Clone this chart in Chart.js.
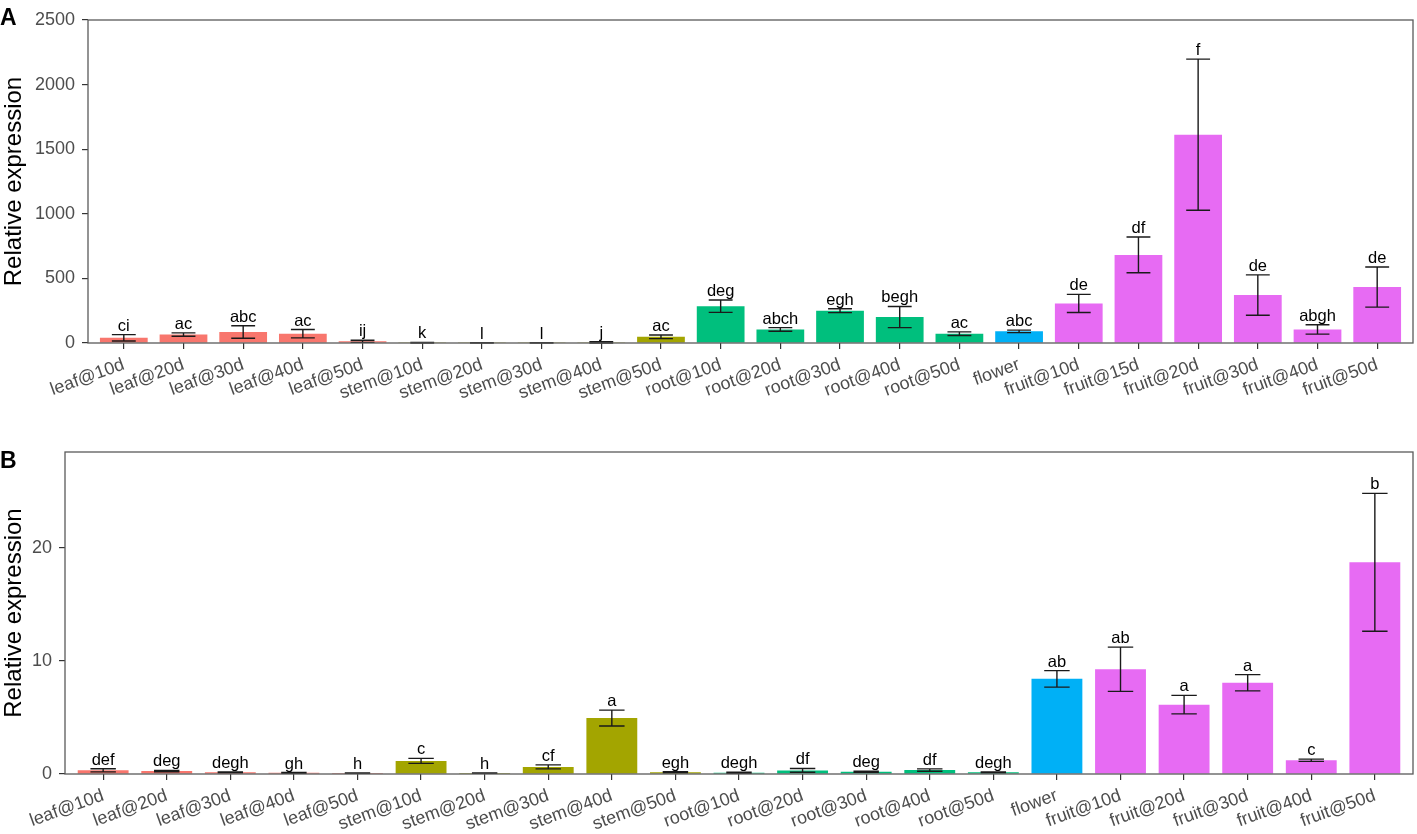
<!DOCTYPE html>
<html>
<head>
<meta charset="utf-8">
<script src="https://cdn.jsdelivr.net/npm/chart.js@4.4.1/dist/chart.umd.min.js"></script>
<style>
  body { margin: 0; background: #fff; }
  #page { position: relative; width: 1417px; height: 834px; overflow: hidden; }
  .panel { position: absolute; left: 0; width: 1417px; }
  .tag { position: absolute; left: 0; font: bold 23px 'Liberation Sans', Arial, sans-serif; line-height: 23px; color: #000; }
</style>
</head>
<body>
<div id="page">
  <div class="panel" style="top:0;height:420px"><canvas id="chartA"></canvas></div>
  <div class="panel" style="top:430px;height:404px"><canvas id="chartB"></canvas></div>
  <div class="tag" style="top:6px">A</div>
  <div class="tag" style="top:449px">B</div>
</div>
<script>
// panel A
const catsA = ['leaf@10d', 'leaf@20d', 'leaf@30d', 'leaf@40d', 'leaf@50d',
  'stem@10d', 'stem@20d', 'stem@30d', 'stem@40d', 'stem@50d',
  'root@10d', 'root@20d', 'root@30d', 'root@40d', 'root@50d',
  'flower', 'fruit@10d', 'fruit@15d', 'fruit@20d', 'fruit@30d', 'fruit@40d', 'fruit@50d'];
const groupsA = ['leaf', 'leaf', 'leaf', 'leaf', 'leaf', 'stem', 'stem', 'stem', 'stem', 'stem',
  'root', 'root', 'root', 'root', 'root', 'flower', 'fruit', 'fruit', 'fruit', 'fruit', 'fruit', 'fruit'];
const valsA = [40, 65, 85, 72, 13, 2, 1, 1, 5, 48, 285, 105, 250, 201, 72, 90, 306, 682, 1612, 371, 105, 433];
const errA = [25, 13, 48, 32, 8, 3, 2, 2, 6, 14, 48, 14, 15, 82, 14, 10, 70, 138, 585, 156, 36, 155];
const lettersA = ['ci', 'ac', 'abc', 'ac', 'ij', 'k', 'l', 'l', 'j', 'ac', 'deg', 'abch', 'egh', 'begh', 'ac',
  'abc', 'de', 'df', 'f', 'de', 'abgh', 'de'];
const ticksA = [0, 500, 1000, 1500, 2000, 2500];

// panel B
const catsB = ['leaf@10d', 'leaf@20d', 'leaf@30d', 'leaf@40d', 'leaf@50d',
  'stem@10d', 'stem@20d', 'stem@30d', 'stem@40d', 'stem@50d',
  'root@10d', 'root@20d', 'root@30d', 'root@40d', 'root@50d',
  'flower', 'fruit@10d', 'fruit@20d', 'fruit@30d', 'fruit@40d', 'fruit@50d'];
const groupsB = ['leaf', 'leaf', 'leaf', 'leaf', 'leaf', 'stem', 'stem', 'stem', 'stem', 'stem',
  'root', 'root', 'root', 'root', 'root', 'flower', 'fruit', 'fruit', 'fruit', 'fruit', 'fruit'];
const valsB = [0.33, 0.26, 0.15, 0.10, 0.08, 1.16, 0.08, 0.63, 4.95, 0.15,
  0.12, 0.32, 0.20, 0.35, 0.15, 8.42, 9.27, 6.14, 8.08, 1.22, 18.74];
const errB = [0.14, 0.06, 0.04, 0.03, 0.02, 0.22, 0.02, 0.18, 0.70, 0.05,
  0.05, 0.17, 0.05, 0.10, 0.04, 0.73, 1.96, 0.82, 0.72, 0.10, 6.10];
const lettersB = ['def', 'deg', 'degh', 'gh', 'h', 'c', 'h', 'cf', 'a', 'egh',
  'degh', 'df', 'deg', 'df', 'degh', 'ab', 'ab', 'a', 'a', 'c', 'b'];
const ticksB = [0, 10, 20];

const colors = { leaf: '#F8766D', stem: '#A3A500', root: '#00BF7D', flower: '#00B0F6', fruit: '#E76BF3' };
const FONT = "'Liberation Sans', Arial, sans-serif";

Chart.defaults.font.family = FONT;

// error bars, letters and the panel frame
const errorBars = {
  id: 'errorBars',
  afterDatasetsDraw(chart) {
    const ctx = chart.ctx;
    const ds = chart.data.datasets[0];
    const x = chart.scales.x, y = chart.scales.y;
    const half = (x.getPixelForValue(1) - x.getPixelForValue(0)) * 0.2;
    ctx.save();
    ctx.strokeStyle = '#1a1a1a';
    ctx.lineWidth = 1.4;
    ctx.fillStyle = '#000';
    ctx.font = '16.5px ' + FONT;
    ctx.textAlign = 'center';
    ctx.textBaseline = 'alphabetic';
    ds.data.forEach((d, i) => {
      const px = x.getPixelForValue(d.x);
      const hi = y.getPixelForValue(d.y + ds.err[i]);
      const lo = y.getPixelForValue(Math.max(d.y - ds.err[i], 0));
      ctx.beginPath();
      ctx.moveTo(px, hi); ctx.lineTo(px, lo);
      ctx.moveTo(px - half, hi); ctx.lineTo(px + half, hi);
      ctx.moveTo(px - half, lo); ctx.lineTo(px + half, lo);
      ctx.stroke();
      ctx.fillText(ds.letters[i], px, hi - 4);
    });
    ctx.restore();
  },
  afterDraw(chart) {
    const a = chart.chartArea, ctx = chart.ctx;
    ctx.save();
    ctx.strokeStyle = '#5a5a5a';
    ctx.lineWidth = 1.3;
    ctx.strokeRect(a.left, a.top, a.right - a.left, a.bottom - a.top);
    ctx.restore();
  }
};

function makeChart(id, cats, vals, errs, letters, groups, yTicks, yMax, box) {
  return new Chart(document.getElementById(id), {
    type: 'bar',
    data: {
      datasets: [{
        data: vals.map((v, i) => ({ x: i, y: v })),
        backgroundColor: groups.map(g => colors[g]),
        err: errs,
        letters: letters,
        barPercentage: 0.8,
        categoryPercentage: 1
      }]
    },
    options: {
      responsive: true,
      maintainAspectRatio: false,
      animation: false,
      layout: { padding: { top: box.top, right: 4, left: 0, bottom: 0 } },
      plugins: { legend: { display: false }, tooltip: { enabled: false } },
      scales: {
        x: {
          type: 'linear',
          min: -0.6,
          max: cats.length - 0.4,
          offset: false,
          afterBuildTicks: s => { s.ticks = cats.map((c, i) => ({ value: i })); },
          afterFit: s => { s.height = box.xh; },
          grid: { drawOnChartArea: false, offset: false, tickLength: 6, color: '#333', lineWidth: 1.2 },
          border: { display: false },
          ticks: {
            autoSkip: false, maxRotation: 20, minRotation: 20, padding: 5,
            color: '#4d4d4d', font: { size: 18 },
            callback: v => cats[v]
          }
        },
        y: {
          min: 0,
          max: yMax,
          afterBuildTicks: s => { s.ticks = yTicks.map(v => ({ value: v })); },
          afterFit: s => { s.width = box.yw; },
          grid: { drawOnChartArea: false, tickLength: 6, color: '#333', lineWidth: 1.2 },
          border: { display: false },
          ticks: { padding: 7, color: '#4d4d4d', font: { size: 18 }, callback: v => String(v) },
          title: { display: true, text: 'Relative expression', color: '#000', font: { size: 24 }, padding: 0 }
        }
      }
    },
    plugins: [errorBars]
  });
}

makeChart('chartA', catsA, valsA, errA, lettersA, groupsA, ticksA, 2500, { top: 20, xh: 77, yw: 88 });
makeChart('chartB', catsB, valsB, errB, lettersB, groupsB, ticksB, 28.5, { top: 22, xh: 60, yw: 65 });
</script>
</body>
</html>
